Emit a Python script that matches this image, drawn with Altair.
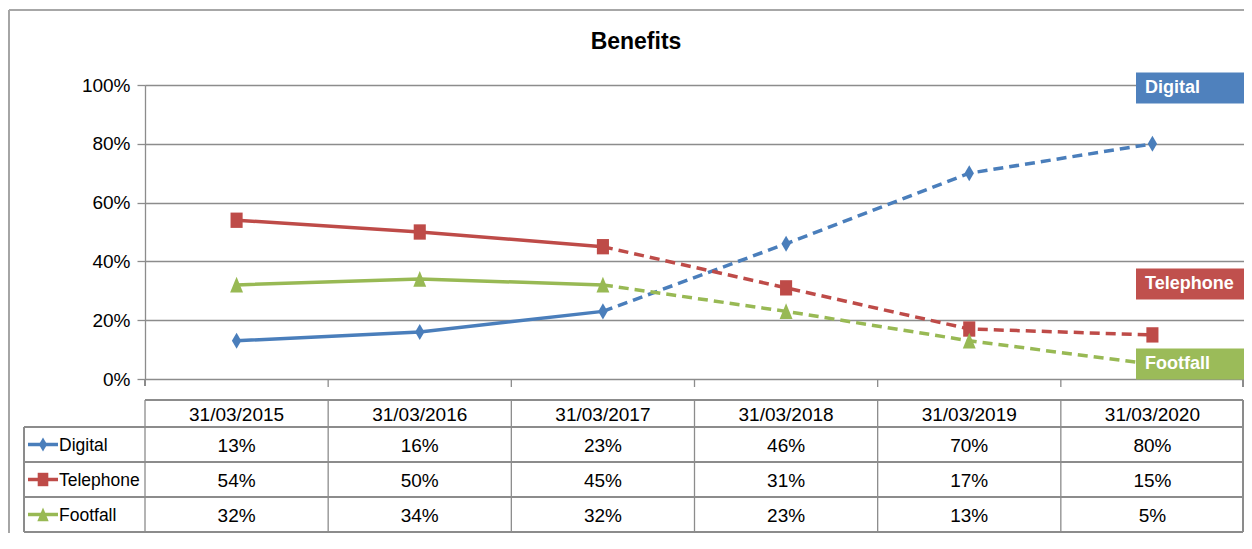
import altair as alt
import pandas as pd

# ---------------- data ----------------
dates = ["31/03/2015", "31/03/2016", "31/03/2017", "31/03/2018", "31/03/2019", "31/03/2020"]
series_names = ["Digital", "Telephone", "Footfall"]
digital = [0.13, 0.16, 0.23, 0.46, 0.70, 0.80]
telephone = [0.54, 0.50, 0.45, 0.31, 0.17, 0.15]
footfall = [0.32, 0.34, 0.32, 0.23, 0.13, 0.05]
line_colors = ["#4A7EBB", "#BE4B48", "#98B954"]
box_colors = ["#4F81BD", "#C0504D", "#9BBB59"]
label_pos = [0.99, 0.323, 0.051]
y_ticks = [0, 0.2, 0.4, 0.6, 0.8, 1.0]
last_actual = 2  # index of 31/03/2017: solid up to here, dashed after
title_text = "Benefits"

values = {"Digital": digital, "Telephone": telephone, "Footfall": footfall}
rows = []
for s in series_names:
    for i, (d, v) in enumerate(zip(dates, values[s])):
        rows.append(dict(series=s, date=d, idx=i, value=v, label=f"{round(v * 100)}%"))
df = pd.DataFrame(rows)
dates_df = pd.DataFrame({"date": dates, "idx": list(range(len(dates)))})
half_box = 0.0527
labels_df = pd.DataFrame({
    "series": series_names,
    "pos": label_pos,
    "top": [p + half_box for p in label_pos],
    "bot": [p - half_box for p in label_pos],
})

# ---------------- styling ----------------
W, H = 1099, 294
FONT = "Liberation Sans, Arial, sans-serif"
GRID = "#8C8C8C"
LINE_W = 3.5
FS = 19
shapes = {
    "Digital": "M0,-1L0.58,0L0,1L-0.58,0Z",
    "Telephone": "M-0.75,-0.95H0.75V0.95H-0.75Z",
    "Footfall": "M0,-1L0.8,0.95H-0.8Z",
}

xband = alt.Scale(type="band", domain=dates, paddingInner=0, paddingOuter=0)
yscale = alt.Scale(domain=[0, 1], nice=False, zero=True)
yaxis = alt.Axis(values=y_ticks, format=".0%", title=None, grid=True,
                 gridColor=GRID, gridWidth=1.3, domainColor=GRID, domainWidth=1.3,
                 tickColor=GRID, tickWidth=1.3, tickSize=8, labelFont=FONT,
                 labelFontSize=FS, labelColor="#000000", labelPadding=7)


def X(bp=0.5):
    return alt.X("date:N", scale=xband, axis=None, bandPosition=bp)


def Y(field="value"):
    return alt.Y(f"{field}:Q", scale=yscale, axis=yaxis)


layers = []

# frame (top and left border)
layers.append(alt.Chart(dates_df).mark_rule(color="#A6A6A6", strokeWidth=1.2).encode(
    x=alt.value(-136), x2=alt.value(W + 2), y=alt.value(-75)))
layers.append(alt.Chart(dates_df).mark_rule(color="#A6A6A6", strokeWidth=1.2).encode(
    x=alt.value(-136), y=alt.value(-75), y2=alt.value(H + 154)))

# y axis extension below 0% and category tick marks
layers.append(alt.Chart(dates_df).mark_rule(color=GRID, strokeWidth=1.3).encode(
    x=alt.value(0), y=alt.value(H), y2=alt.value(H + 7)))
layers.append(alt.Chart(dates_df[dates_df.idx > 0]).mark_rule(color=GRID, strokeWidth=1.3).encode(
    x=X(0), y=alt.value(H), y2=alt.value(H + 8)))
layers.append(alt.Chart(dates_df).mark_rule(color=GRID, strokeWidth=1.3).encode(
    x=alt.value(W - 1), y=alt.value(H), y2=alt.value(H + 8)))

# lines and markers
for s, c in zip(series_names, line_colors):
    sdf = df[df.series == s]
    layers.append(alt.Chart(sdf[sdf.idx <= last_actual]).mark_line(
        color=c, strokeWidth=LINE_W).encode(x=X(), y=Y(), order="idx:Q"))
    layers.append(alt.Chart(sdf[sdf.idx >= last_actual]).mark_line(
        color=c, strokeWidth=LINE_W, strokeDash=[10, 6]).encode(x=X(), y=Y(), order="idx:Q"))
    layers.append(alt.Chart(sdf).mark_point(
        shape=shapes[s], filled=True, size=260, color=c, opacity=1).encode(x=X(), y=Y()))

# right-side series labels
layers.append(alt.Chart(labels_df).mark_rect().encode(
    x=alt.value(991), x2=alt.value(W + 4), y=Y("top"), y2="bot:Q",
    color=alt.Color("series:N", scale=alt.Scale(domain=series_names, range=box_colors), legend=None)))
layers.append(alt.Chart(labels_df).mark_text(
    align="left", baseline="middle", font=FONT, fontSize=18, fontWeight="bold", color="white").encode(
    x=alt.value(1000), y=Y("pos"), text="series:N"))

# title
layers.append(alt.Chart(dates_df.head(1)).mark_text(
    align="center", baseline="middle", font=FONT, fontSize=23, fontWeight="bold", color="#000000").encode(
    x=alt.value(491), y=alt.value(-43), text=alt.value(title_text)))

# ---------------- data table ----------------
TOP, HDR_BOT = 315, 342
row_bounds = [342, 377, 412, 447]
row_centers = [359.5, 394.5, 429.5]
LEFT = -121

# horizontal lines
layers.append(alt.Chart(dates_df).mark_rule(color=GRID, strokeWidth=1.3).encode(
    x=alt.value(0), x2=alt.value(W - 1), y=alt.value(TOP)))
for yb in row_bounds:
    layers.append(alt.Chart(dates_df).mark_rule(color=GRID, strokeWidth=1.3).encode(
        x=alt.value(LEFT), x2=alt.value(W - 1), y=alt.value(yb)))
# vertical lines
layers.append(alt.Chart(dates_df).mark_rule(color=GRID, strokeWidth=1.3).encode(
    x=X(0), y=alt.value(TOP), y2=alt.value(row_bounds[-1])))
layers.append(alt.Chart(dates_df).mark_rule(color=GRID, strokeWidth=1.3).encode(
    x=alt.value(W - 1), y=alt.value(TOP), y2=alt.value(row_bounds[-1])))
layers.append(alt.Chart(dates_df).mark_rule(color=GRID, strokeWidth=1.3).encode(
    x=alt.value(LEFT), y=alt.value(HDR_BOT), y2=alt.value(row_bounds[-1])))

# header
layers.append(alt.Chart(dates_df).mark_text(
    baseline="middle", font=FONT, fontSize=FS, color="#000000").encode(
    x=X(), y=alt.value((TOP + HDR_BOT) / 2 + 1), text="date:N"))

# rows
for s, c, ry in zip(series_names, line_colors, row_centers):
    sdf = df[df.series == s]
    layers.append(alt.Chart(sdf).mark_text(
        baseline="middle", font=FONT, fontSize=FS, color="#000000").encode(
        x=X(), y=alt.value(ry + 1), text="label:N"))
    layers.append(alt.Chart(sdf.head(1)).mark_text(
        align="left", baseline="middle", font=FONT, fontSize=17.5, color="#000000").encode(
        x=alt.value(-86), y=alt.value(ry + 1), text="series:N"))
    layers.append(alt.Chart(sdf.head(1)).mark_rule(color=c, strokeWidth=LINE_W).encode(
        x=alt.value(-117), x2=alt.value(-87), y=alt.value(ry)))
    layers.append(alt.Chart(sdf.head(1)).mark_point(
        shape=shapes[s], filled=True, size=200, color=c, opacity=1).encode(
        x=alt.value(-102), y=alt.value(ry)))

chart = alt.layer(*layers).properties(
    width=W, height=H,
    padding={"left": 137, "top": 77, "right": 0, "bottom": 154},
    autosize=alt.AutoSizeParams(type="none"),
).configure_view(stroke=None).configure(background="white")

chart.save("out.html", embed_options={"renderer": "svg", "actions": False})
